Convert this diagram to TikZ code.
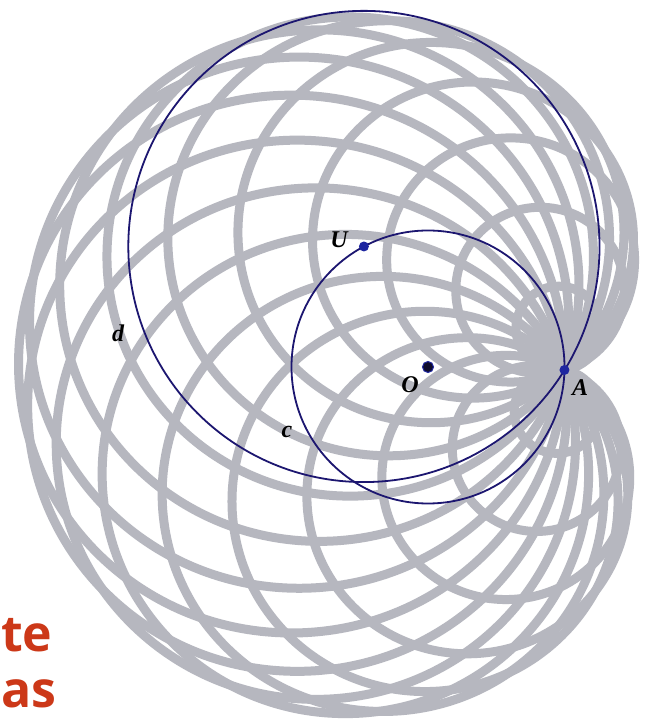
\documentclass[tikz,border=0pt]{standalone}
\usepackage{fontspec}
\setmainfont{Liberation Serif}
\newfontfamily\titlefont{Open Sans}
\usetikzlibrary{calc}
\definecolor{gcol}{RGB}{182,183,191}
\definecolor{navy}{RGB}{28,22,112}
\definecolor{dotblue}{RGB}{30,38,160}
\definecolor{odot}{RGB}{15,12,45}
\definecolor{titlered}{RGB}{204,56,24}
\tikzset{
  graycirc/.style={draw=gcol, line width=9pt},
  bluecirc/.style={draw=navy, line width=1.8pt},
  ptdot/.style={circle, fill=dotblue, inner sep=0pt, minimum size=10pt},
  odotstyle/.style={circle, fill=odot, draw=dotblue, line width=1pt, inner sep=0pt, minimum size=11pt},
  lbl/.style={font=\fontsize{24}{24}\selectfont\bfseries\itshape, text=black, inner sep=0pt},
  title/.style={font=\fontsize{50}{50}\selectfont\titlefont\bfseries, text=titlered, inner sep=0pt}
}
\begin{document}
\begin{tikzpicture}[x=1pt,y=1pt]
\useasboundingbox[fill=white] (0,0) rectangle (651,726);
\coordinate (O) at (428,359);
\coordinate (A) at ($(O)+(-1.25:136.5pt)$);
\coordinate (U) at ($(O)+(118:136.5pt)$);
% family of circles through A centred on c
\begin{scope}[shift={(O)}, yscale=0.985]
  \foreach \t in {18,36,...,342} {
    \pgfmathsetmacro{\rr}{2*136.5*sin(\t/2)}
    \draw[graycirc] (-1.25+\t:136.5pt) circle (\rr pt);
  }
\end{scope}
% circle c and circle d
\draw[bluecirc] (O) circle (136.5pt);
\draw[bluecirc] (U) circle (235.6pt);
% points
\node[odotstyle] (Odot) at (O) {};
\node[ptdot] (Udot) at (U) {};
\node[ptdot] (Adot) at (A) {};
% labels
\node[lbl] (Ulbl) at (339,486) {U};
\node[lbl] (Olbl) at (410,341) {O};
\node[lbl] (Albl) at (580,338) {A};
\node[lbl] (dlbl) at (118,393) {d};
\node[lbl] (clbl) at (287,294) {c};
% title fragments
\node[title, anchor=base west] (te) at (1,74) {te};
\node[title, anchor=base west] (as) at (1,18) {as};
\end{tikzpicture}
\end{document}
